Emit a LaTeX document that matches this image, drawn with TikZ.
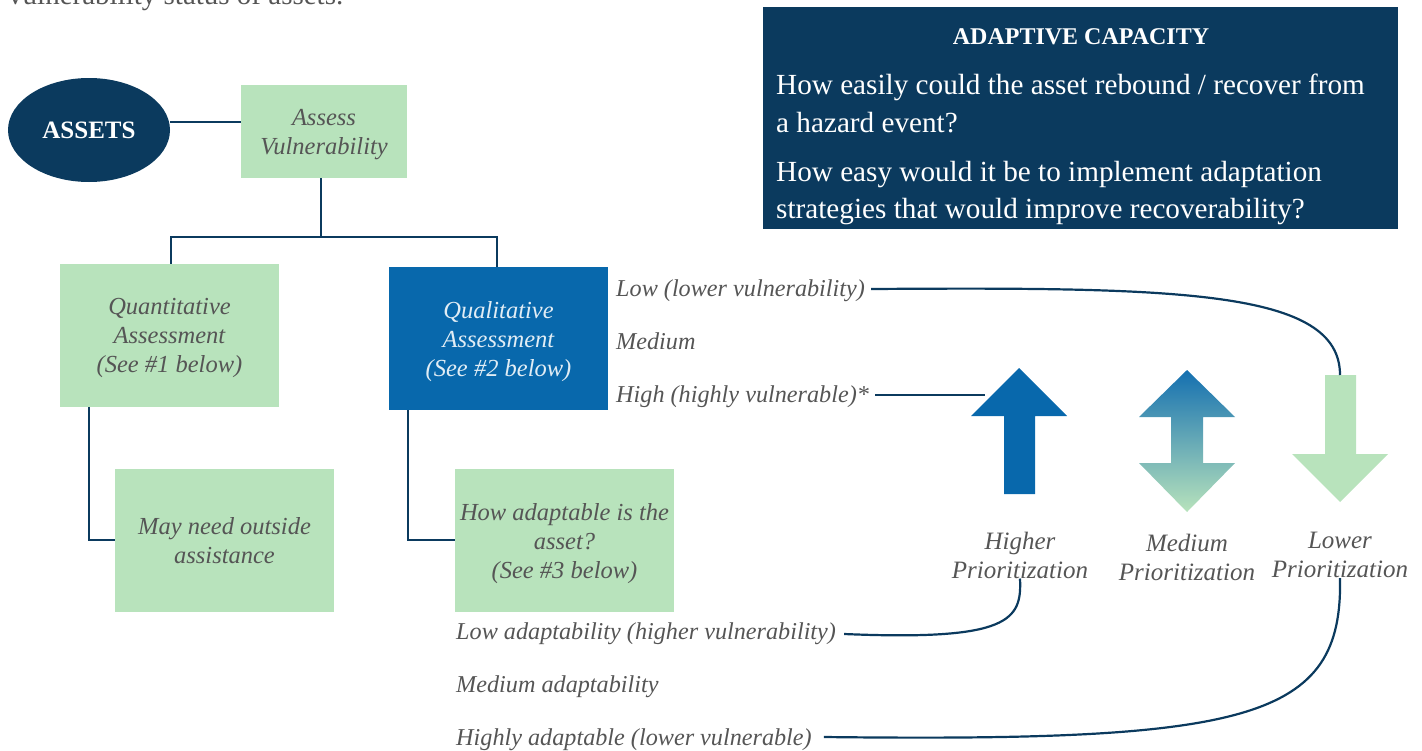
\documentclass[tikz,border=0pt]{standalone}
\usepackage{fontspec}
\setmainfont{Liberation Serif}
\usetikzlibrary{positioning, calc, shapes.geometric}

\definecolor{navy}{HTML}{0B3A5E}
\definecolor{midblue}{HTML}{0868AC}
\definecolor{lightgreen}{HTML}{B8E3BC}
\definecolor{grayteal}{HTML}{7EA8B6}
\definecolor{txtgray}{HTML}{555555}

\tikzset{
  greenbox/.style={fill=lightgreen, align=center, inner sep=0pt, text depth=-10pt, font=\fontsize{24.5}{29}\selectfont\itshape, text=txtgray},
  bluebox/.style={greenbox, fill=midblue, text=white!88!midblue},
  option/.style={anchor=base west, font=\fontsize{24.2}{29}\selectfont\itshape, text=txtgray, inner sep=0pt},
  prio/.style={align=center, font=\fontsize{25}{29}\selectfont\itshape, text=txtgray, inner sep=0pt},
  link/.style={draw=navy, line width=2.2pt},
}

\begin{document}
\begin{tikzpicture}[x=1pt, y=-1pt]
\useasboundingbox (0,0) rectangle (1422,750);

% text cut off at the top of the page
\node[anchor=base west, inner sep=0pt, font=\fontsize{29}{32}\selectfont, text=txtgray] (intro) at (8,4) {vulnerability status of assets.};

% adaptive capacity box
\fill[navy] (763,7) rectangle (1398,229);
\node[font=\fontsize{24}{26}\selectfont\bfseries, text=white, inner sep=0pt] (adtitle) at (1081,37) {ADAPTIVE CAPACITY};
\node[anchor=north west, align=left, inner sep=0pt, text=white, font=\fontsize{29.2}{37.5}\selectfont] (q1) at (776,74)
  {How easily could the asset rebound / recover from\\a hazard event?};
\node[anchor=north west, align=left, inner sep=0pt, text=white, font=\fontsize{29.2}{37.5}\selectfont] (q2) at (776,161)
  {How easy would it be to implement adaptation\\strategies that would improve recoverability?};

% tree
\node[ellipse, fill=navy, minimum width=162pt, minimum height=104pt, inner sep=0pt, text=white,
      font=\fontsize{25}{28}\selectfont\bfseries] (assets) at (89,130) {ASSETS};
\node[greenbox, minimum width=166pt, minimum height=93pt] (assess) at (324,131.5) {Assess\\Vulnerability};
\node[greenbox, minimum width=219pt, minimum height=143pt] (quant) at (169.5,335.5) {Quantitative\\Assessment\\(See \#1 below)};
\node[bluebox, minimum width=219pt, minimum height=143pt] (qual) at (498.5,338.5) {Qualitative\\Assessment\\(See \#2 below)};
\node[greenbox, minimum width=219pt, minimum height=143pt] (outside) at (224.5,540.5) {May need outside\\assistance};
\node[greenbox, minimum width=219pt, minimum height=143pt] (adapt) at (564.5,540.5) {How adaptable is the\\asset?\\(See \#3 below)};

\draw[link] (assets.east |- 0,122) -- (assess.west |- 0,122);
\draw[link] (assess.south -| 321,0) -- (321,237) -- (171,237) -- (quant.north -| 171,0);
\draw[link] (321,237) -- (497,237) -- (qual.north -| 497,0);
\draw[link] (quant.south -| 89,0) -- (89,540) -- (outside.west |- 0,540);
\draw[link] (qual.south -| 408,0) -- (408,540) -- (adapt.west |- 0,540);

% vulnerability levels
\node[option] (lowv) at (616,296) {Low (lower vulnerability)};
\node[option] (medv) at (616,349) {Medium};
\node[option] (highv) at (616,402) {High (highly vulnerable)*};

% adaptability levels
\node[option] (lowa) at (456,639) {Low adaptability (higher vulnerability)};
\node[option] (meda) at (456,692) {Medium adaptability};
\node[option] (higha) at (456,745) {Highly adaptable (lower vulnerable)};

% prioritization arrows
\fill[midblue] (1019,368) -- (1067,416) -- (1035,416) -- (1035,494) -- (1004,494) -- (1004,416) -- (971,416) -- cycle;
\shade[top color=midblue!95!white, middle color=grayteal, bottom color=lightgreen] (1187,370) -- (1235,417) -- (1203,417) -- (1203,463) -- (1235,463)
  -- (1187,512) -- (1139,463) -- (1171,463) -- (1171,417) -- (1139,417) -- cycle;
\fill[lightgreen] (1325,375) -- (1356,375) -- (1356,454) -- (1388,454) -- (1340,502) -- (1292,454) -- (1325,454) -- cycle;
\coordinate (uphead) at (985,395);
\coordinate (downtop) at (1340,375);

\node[prio] (higher) at (1020,555) {Higher\\Prioritization};
\node[prio] (medium) at (1187,557) {Medium\\Prioritization};
\node[prio] (lower) at (1340,555) {Lower\\Prioritization};

% connectors
\draw[link] ($(lowv.base east)+(6,-7)$) .. controls (1180,287) and (1340,290) .. (downtop);
\draw[link] ($(highv.base east)+(6,-7)$) -- (uphead);
\draw[link] ($(lowa.base east)+(8,-5)$) .. controls (1010,641) and (1022,620) .. (higher.south);
\draw[link] ($(higha.base east)+(12,-8)$) .. controls (1250,742) and (1343,720) .. (lower.south);
\end{tikzpicture}
\end{document}
